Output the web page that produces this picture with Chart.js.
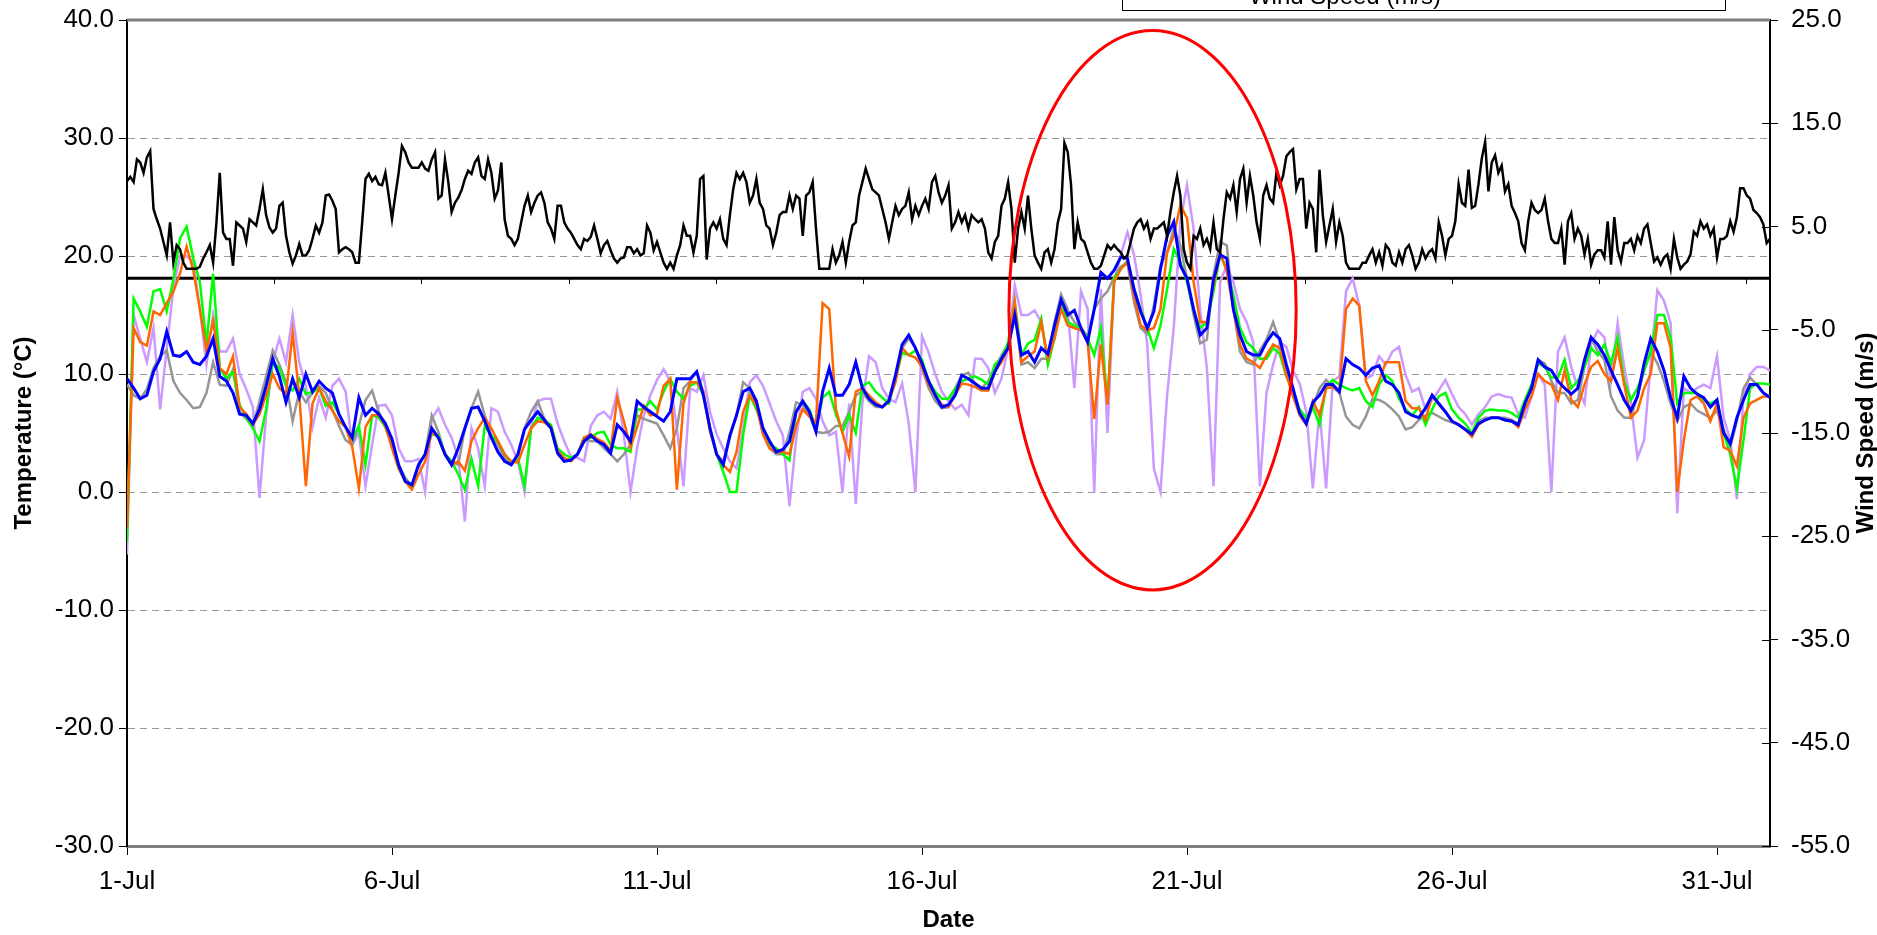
<!DOCTYPE html>
<html>
<head>
<meta charset="utf-8">
<script src="https://cdn.jsdelivr.net/npm/chart.js@4.4.1/dist/chart.umd.min.js"></script>
<style>
  html, body { margin: 0; padding: 0; background: #fff; }
  #wrap { width: 1877px; height: 935px; }
</style>
</head>
<body>
<div id="wrap"><canvas id="c" width="1877" height="935"></canvas></div>
<script>
// Sampling from 1 July 00:00 to 1 August 00:00: wind every 1.5 h, temperatures every 3 h
const WIND_STEP_DAYS = 0.0625;
const TEMP_STEP_DAYS = 0.125;
// the secondary time axis (zero wind line) is marked every 4000 minutes
const ZERO_AXIS_TICK_DAYS = 4000 / 1440;

const dateTicks = ['1-Jul', '6-Jul', '11-Jul', '16-Jul', '21-Jul', '26-Jul', '31-Jul'];
const tempTicks = [-30, -20, -10, 0, 10, 20, 30, 40];
const windTicks = [-55, -45, -35, -25, -15, -5, 5, 15, 25];

// one row per day
const windSpeed = [
  9.4,9.8,9.3,11.5,11.2,10.2,11.7,12.3,6.7,5.7,4.8,3.5,2.2,5.4,1.5,3.2,
  2.8,1.5,0.9,0.9,0.9,0.9,1.1,1.9,2.5,3.2,1.5,5.4,10.2,4.4,3.8,3.8,
  1.2,5.4,5.1,4.8,3.5,5.7,5.4,5.1,6.7,8.6,6.1,4.9,4.4,4.8,7.0,7.3,
  4.1,2.5,1.4,2.2,3.3,2.2,2.2,2.7,3.8,5.1,4.4,5.4,8.0,8.1,7.5,6.7,
  2.5,2.8,3.0,2.8,2.5,1.5,1.5,5.4,9.6,10.1,9.4,9.8,9.1,9.0,10.2,8.0,
  5.7,8.0,10.2,12.8,12.2,11.2,10.7,10.7,10.7,11.2,10.6,10.4,11.5,12.2,7.7,8.0,
  11.5,9.3,6.4,7.3,7.8,8.5,9.6,10.4,10.1,11.2,11.7,9.9,9.6,11.5,10.2,7.7,
  8.5,11.2,5.7,4.1,3.8,3.2,3.8,5.4,7.0,8.0,6.4,7.3,8.0,8.3,7.3,5.4,
  4.8,3.8,7.0,7.0,5.4,4.8,4.4,3.8,3.2,2.8,3.8,3.6,4.0,5.1,3.8,2.4,
  3.2,3.6,2.7,1.9,1.5,1.9,2.0,3.0,3.0,2.4,2.8,2.2,2.4,5.1,4.4,2.7,
  3.5,2.5,1.5,0.9,1.5,0.9,2.2,3.2,5.1,4.1,4.1,2.5,4.1,9.6,9.9,1.8,
  4.8,5.4,4.8,5.7,3.8,3.2,6.1,8.6,10.2,9.6,10.2,9.3,7.3,8.0,9.6,7.3,
  6.7,5.1,4.8,3.2,4.4,6.1,6.4,6.4,8.0,6.7,8.0,7.7,4.1,8.0,8.3,9.3,
  4.8,0.9,0.9,0.9,0.9,2.8,1.5,2.2,3.5,1.5,3.5,5.1,5.4,8.0,9.3,10.6,
  9.6,8.6,8.3,8.0,6.7,5.4,3.8,5.4,7.0,6.1,6.7,7.0,8.3,5.7,7.0,6.1,
  7.0,7.7,6.7,9.3,9.9,8.3,7.3,8.0,9.0,4.8,5.4,6.4,5.4,6.1,4.8,6.1,
  5.7,5.4,5.7,4.8,2.5,1.9,3.5,4.1,7.0,7.7,9.3,6.7,1.5,4.8,6.4,4.8,
  8.0,4.8,2.2,1.5,0.9,2.5,2.8,1.5,2.8,5.4,6.7,13.1,12.2,9.0,2.8,5.4,
  3.8,3.5,2.5,1.5,0.9,0.9,1.2,2.2,3.2,2.8,3.2,2.8,2.5,1.9,2.2,3.5,
  4.8,5.4,5.7,4.8,5.4,3.8,4.8,4.8,5.1,5.4,4.1,6.4,8.3,9.9,8.0,2.8,
  1.5,0.9,4.1,3.8,4.8,3.2,3.8,2.8,5.4,2.8,2.5,5.7,8.3,7.7,9.0,6.4,
  9.6,10.6,7.3,9.9,8.0,5.4,3.8,8.0,9.0,7.7,7.3,10.2,9.0,9.9,11.8,12.2,
  12.5,8.6,9.6,9.6,4.8,7.3,6.7,2.5,10.5,6.1,3.5,5.1,6.7,3.5,5.4,4.1,
  1.5,0.9,0.9,0.9,0.9,1.5,1.5,2.2,2.8,1.5,2.5,1.2,3.2,2.8,1.5,1.2,
  2.5,1.5,2.8,3.2,2.2,0.9,1.5,2.8,1.9,2.5,2.8,1.9,5.4,4.1,2.2,3.8,
  4.1,5.5,9.1,7.3,7.0,10.5,6.8,7.0,9.1,11.6,13.2,8.4,11.2,11.9,10.2,10.9,
  8.4,9.1,7.0,6.3,5.5,3.4,2.7,5.5,7.3,6.6,6.3,6.6,7.7,5.5,3.8,3.4,
  3.4,4.8,1.3,5.5,6.3,3.8,4.8,4.1,2.3,3.8,1.3,2.3,2.7,2.7,2.0,5.5,
  1.3,5.9,2.7,1.6,3.4,3.4,3.8,2.7,4.1,3.4,4.8,5.2,3.4,1.6,2.0,1.3,
  2.0,2.3,0.9,3.8,2.0,0.9,1.3,1.6,2.3,4.5,4.1,5.5,4.8,5.2,4.1,4.8,
  2.0,3.8,3.8,4.1,5.5,4.5,5.9,8.7,8.7,8.0,7.7,6.6,6.3,5.9,5.2,3.4,
  3.8
];

const tempBlue = [
  9.6,8.8,7.9,8.2,10.2,11.3,13.6,11.6,
  11.5,11.9,11.0,10.8,11.5,13.0,9.8,9.4,
  8.4,6.6,6.5,5.8,7.0,9.0,11.3,9.8,
  7.6,9.6,8.0,10.0,8.5,9.4,8.8,8.4,
  6.6,5.5,4.6,8.0,6.5,7.1,6.6,5.8,
  4.5,2.3,0.9,0.6,2.3,3.2,5.4,4.6,
  3.2,2.3,3.7,5.4,7.1,7.2,6.0,4.6,
  3.4,2.6,2.3,3.2,5.3,6.1,6.8,6.1,
  5.4,3.3,2.6,2.7,3.2,4.3,4.8,4.3,
  4.0,3.3,5.7,5.1,4.3,7.7,7.2,6.8,
  6.4,6.0,6.8,9.6,9.6,9.6,10.2,8.2,
  5.4,3.2,2.3,4.8,6.5,8.5,8.8,7.7,
  5.4,4.3,3.4,3.6,4.3,6.8,7.7,6.8,
  5.1,8.5,10.5,8.2,8.2,9.1,11.0,8.8,
  7.9,7.4,7.2,7.7,9.9,12.5,13.3,12.2,
  10.9,9.4,8.2,7.2,7.4,8.2,9.9,9.6,
  9.2,8.8,8.8,10.2,11.3,12.2,15.0,11.6,
  11.9,11.0,12.2,11.7,14.1,16.3,15.0,15.4,
  13.9,12.7,15.5,18.6,18.1,18.8,19.9,19.8,
  17.2,15.3,13.9,15.3,18.9,21.7,22.9,19.2,
  18.1,15.5,13.3,13.9,18.0,20.1,19.8,15.5,
  13.3,11.9,11.6,11.6,12.7,13.5,13.0,10.8,
  8.8,6.7,5.8,7.6,8.2,9.1,9.1,8.5,
  11.3,10.8,10.5,9.9,10.5,10.7,9.4,9.1,
  8.4,6.8,6.5,6.3,7.1,8.2,7.5,6.8,
  6.0,5.7,5.3,4.9,5.8,6.1,6.3,6.3,
  6.1,6.0,5.7,7.5,8.8,11.2,10.6,10.3,
  9.4,8.8,8.3,8.8,11.2,13.1,12.5,11.6,
  10.3,9.1,7.8,6.9,8.1,10.9,13.0,11.9,
  10.3,8.0,6.3,9.8,8.8,8.3,8.0,7.2,
  7.8,5.0,4.1,6.3,7.8,9.1,9.1,8.4,
  8.0
];

const tempGreen = [
  -4.2,16.4,15.3,14.0,17.0,17.2,15.3,18.0,
  21.5,22.5,19.8,17.8,12.5,18.5,10.5,9.6,
  10.2,7.4,6.3,5.4,4.3,7.0,11.0,10.5,
  9.0,8.6,9.6,8.3,8.5,8.8,7.3,7.6,
  6.6,5.5,4.5,5.6,2.3,6.5,6.3,5.5,
  4.0,2.0,0.9,0.5,2.3,3.2,4.9,4.8,
  3.2,2.6,1.5,0.2,2.8,0.5,5.6,4.8,
  4.3,3.2,2.5,2.9,0.5,5.4,6.3,6.0,
  5.7,3.7,3.2,2.9,3.2,4.6,4.6,5.0,
  5.1,4.0,3.7,3.7,3.4,7.0,7.0,7.7,
  7.0,8.5,9.6,8.5,7.9,9.0,9.3,8.2,
  5.4,3.2,1.7,0.0,0.0,4.8,8.2,7.0,
  5.4,4.0,3.7,3.2,2.7,6.8,7.7,7.0,
  5.4,8.0,8.5,6.6,5.1,6.5,5.0,9.0,
  9.3,8.5,8.0,7.5,9.6,11.8,11.6,12.0,
  11.2,9.4,8.5,7.9,7.9,8.8,9.4,9.6,
  9.8,9.5,9.1,10.8,11.3,12.7,16.1,11.6,
  12.6,12.9,14.7,10.8,13.0,16.1,14.4,14.1,
  13.9,13.0,11.6,13.9,7.5,18.1,18.9,19.6,
  17.2,15.5,13.9,12.2,14.1,17.2,20.6,19.5,
  17.8,15.3,13.9,14.4,17.0,20.1,18.9,16.7,
  13.9,12.7,12.2,11.3,11.3,12.2,11.7,9.8,
  8.6,7.0,6.3,7.2,5.7,8.9,9.5,9.1,
  8.8,8.6,8.8,7.7,7.2,9.1,9.9,9.4,
  7.9,7.0,6.5,7.2,5.7,7.0,8.1,8.4,
  7.0,6.3,5.8,5.0,6.3,6.9,7.0,6.9,
  6.9,6.7,6.3,7.8,9.1,10.9,10.6,9.7,
  9.7,11.2,8.8,9.4,10.6,12.2,11.6,12.5,
  10.9,13.1,9.4,7.8,8.8,10.3,11.9,15.0,
  15.0,13.1,7.5,8.4,8.4,8.4,7.8,7.5,
  7.8,5.0,3.2,0.3,4.4,8.8,9.2,9.2,
  9.1
];

const tempOrange = [
  -3.0,13.9,12.7,12.4,15.3,15.0,16.0,17.0,
  18.5,20.8,18.8,15.5,12.0,14.5,10.5,10.0,
  11.5,7.2,6.6,5.7,6.6,8.2,10.0,8.8,
  8.3,13.5,8.2,0.5,7.5,8.8,7.7,6.9,
  6.0,5.5,3.8,0.3,5.5,6.5,6.5,5.6,
  3.7,2.0,0.9,0.2,1.5,2.6,5.1,4.6,
  3.2,2.3,2.6,1.8,4.3,5.4,6.3,5.4,
  4.3,3.2,2.6,2.5,4.0,5.4,6.0,5.9,
  5.5,3.5,2.9,2.6,3.2,4.6,4.9,4.5,
  4.2,3.5,8.0,6.0,3.8,5.5,7.3,6.5,
  6.6,9.0,9.6,0.2,7.5,9.3,9.3,8.5,
  5.1,3.2,2.3,1.7,3.4,6.8,8.2,7.3,
  4.9,3.7,3.4,3.4,3.2,5.6,7.0,6.4,
  5.9,16.0,15.5,7.0,5.0,3.0,8.5,8.8,
  8.2,7.6,7.2,7.7,9.3,12.2,11.6,11.4,
  10.6,9.1,8.2,7.4,7.2,8.2,9.2,9.1,
  8.9,8.6,8.6,10.2,11.0,12.2,16.1,11.0,
  11.5,11.9,14.4,11.3,13.0,15.5,14.1,13.9,
  13.7,12.7,6.2,12.5,7.4,17.8,18.9,19.5,
  16.7,14.1,13.7,13.9,15.5,20.3,21.7,24.3,
  23.2,17.8,14.4,14.4,17.5,20.3,18.7,15.5,
  12.5,11.3,11.0,10.5,11.6,12.5,12.2,9.9,
  8.2,6.5,5.7,7.7,6.5,8.8,8.9,8.6,
  15.5,16.4,15.8,9.4,8.2,9.4,11.0,11.0,
  11.0,7.7,7.1,7.1,6.1,8.2,7.4,6.8,
  6.0,5.7,5.3,4.7,5.7,6.1,6.3,6.3,
  6.1,6.0,5.5,7.0,8.1,10.0,9.4,9.1,
  7.8,10.3,7.8,7.2,9.1,10.6,11.1,10.0,
  9.4,12.2,9.1,6.3,6.9,8.8,10.0,14.3,
  14.3,12.2,0.0,4.4,7.8,8.1,7.5,6.0,
  7.5,3.8,3.5,2.2,6.3,7.5,7.8,8.1,
  8.1
];

const tempGray = [
  9.1,8.2,7.9,8.7,10.5,11.5,12.0,9.4,
  8.4,7.8,7.1,7.2,8.4,11.0,9.1,9.0,
  10.4,6.8,6.2,5.6,7.7,9.8,12.0,10.8,
  9.3,6.0,8.5,7.6,8.4,9.0,8.4,7.0,
  5.6,4.4,4.0,5.6,7.8,8.6,6.8,5.5,
  4.0,2.3,1.2,0.5,2.3,3.2,6.5,5.1,
  3.2,2.6,2.3,5.4,7.1,8.5,6.5,4.8,
  4.0,2.9,2.3,2.9,5.4,6.8,7.7,6.2,
  5.4,3.2,2.6,2.9,3.2,4.6,4.3,4.3,
  3.7,3.2,2.6,3.2,4.0,6.5,6.2,6.0,
  5.8,4.8,3.7,5.4,8.8,9.4,10.2,8.5,
  5.4,3.2,2.6,4.6,6.5,9.3,8.8,7.5,
  4.9,3.7,3.2,3.2,5.1,7.6,7.4,6.5,
  5.1,5.0,5.1,5.6,5.6,6.8,8.2,8.5,
  7.7,7.2,7.2,7.9,9.9,12.2,13.0,12.3,
  10.5,8.8,7.7,7.1,7.2,8.8,9.9,10.1,
  9.2,8.8,9.4,10.5,11.6,12.5,15.5,10.8,
  11.0,10.5,11.3,11.3,14.4,16.7,15.4,14.4,
  13.9,13.2,15.5,16.4,17.0,18.2,19.1,19.4,
  16.1,13.9,13.4,15.8,19.2,20.3,22.3,20.9,
  18.1,15.0,12.6,12.9,18.4,21.2,20.9,15.5,
  11.9,11.0,10.8,12.0,12.9,14.4,12.7,10.2,
  8.1,6.7,5.8,7.2,8.8,9.5,8.9,8.4,
  6.4,5.7,5.4,6.4,7.9,7.8,7.5,7.0,
  6.4,5.3,5.5,6.1,6.5,6.7,6.4,6.1,
  5.9,5.7,5.3,4.7,6.0,6.3,6.3,6.3,
  6.3,6.1,5.8,7.5,8.8,11.2,10.9,9.4,
  8.4,8.4,7.5,7.8,10.6,13.1,11.9,11.2,
  8.1,6.9,6.3,6.3,8.1,10.3,11.9,10.9,
  9.4,7.5,6.0,7.2,7.5,6.9,6.6,6.3,
  6.9,5.3,3.8,6.0,8.8,9.7,9.1,8.4,
  8.1
];

const tempPurple = [
  -5.3,15.0,13.0,11.0,13.9,7.0,12.2,17.3,
  20.0,20.0,19.5,15.5,10.8,15.0,11.9,11.9,
  13.0,10.0,8.7,7.2,-0.5,6.5,11.0,13.0,
  11.0,15.0,11.0,9.0,5.5,8.0,6.3,9.0,
  9.6,8.5,4.0,5.0,0.5,4.0,7.3,7.4,
  6.5,3.7,2.6,2.6,2.8,0.0,6.2,7.1,
  5.7,4.6,2.9,-2.5,5.4,3.7,0.5,7.1,
  6.8,5.1,4.0,2.6,0.0,5.6,7.7,7.9,
  7.9,5.8,4.3,3.0,2.9,2.6,5.6,6.5,
  6.8,6.2,8.5,4.8,0.0,3.7,6.5,8.2,
  9.5,10.4,9.4,5.4,0.5,8.8,8.5,9.9,
  6.8,4.9,3.7,2.6,2.0,5.4,9.3,9.9,
  9.0,7.5,6.0,4.8,-1.2,4.5,8.5,8.8,
  7.9,6.0,4.8,5.1,0.0,7.5,-1.0,7.5,
  11.5,11.0,8.8,7.9,7.6,9.2,5.8,0.0,
  13.2,11.8,10.0,8.5,7.7,7.0,7.4,6.5,
  11.3,11.3,10.5,8.4,9.6,12.2,17.5,15.0,
  15.0,15.4,14.4,11.0,13.3,16.7,15.5,8.8,
  17.0,15.5,0.0,17.2,5.0,17.8,20.1,22.0,
  20.1,16.7,12.5,2.0,0.0,8.2,13.9,22.9,
  26.0,22.3,15.3,10.5,0.5,17.8,19.2,17.8,
  15.5,14.4,12.7,0.5,8.4,10.8,12.7,12.3,
  10.3,9.2,6.8,0.3,7.0,0.3,9.4,9.8,
  17.0,18.1,15.8,9.6,9.9,11.5,10.8,11.9,
  12.3,9.9,8.5,8.8,7.0,7.8,8.6,9.5,
  8.3,7.2,6.6,5.7,6.6,7.2,8.1,8.3,
  8.1,8.0,6.6,6.3,8.1,10.0,9.1,0.0,
  11.9,13.1,10.6,8.8,7.5,12.5,13.7,13.1,
  9.4,14.3,10.6,7.5,2.9,4.4,10.9,17.1,
  16.2,14.3,-1.8,8.8,8.4,8.8,9.1,8.8,
  11.5,6.3,4.4,-0.6,8.1,10.0,10.6,10.6,
  10.3
];

// Highlighted period, in data units (days from 1 July, °C)
const highlight = { centerDay: 19.35, centerTemp: 15.4, halfDays: 2.71, halfTemp: 23.7 };

const FONT = "'Liberation Sans', Arial, sans-serif";

function points(values, step) {
  return values.map((v, i) => ({ x: i * step, y: v }));
}

function series(label, values, step, color, width, axis) {
  return {
    label, data: points(values, step), borderColor: color, backgroundColor: color,
    borderWidth: width, pointRadius: 0, tension: 0, yAxisID: axis, fill: false
  };
}

// keep the plot area fixed: labels may overhang the frame without shrinking it
function fixedBox(size, horizontal) {
  return s => {
    if (horizontal) s.height = size; else s.width = size;
    s.paddingTop = 0; s.paddingBottom = 0; s.paddingLeft = 0; s.paddingRight = 0;
  };
}

const overlay = {
  id: 'overlay',
  beforeDatasetsDraw(chart) {
    const { ctx, chartArea: a, scales } = chart;
    ctx.save();
    // secondary time axis, crossing the wind scale at zero, with its tick marks
    const y0 = scales.y1.getPixelForValue(0);
    ctx.strokeStyle = '#000';
    ctx.lineWidth = 3;
    ctx.beginPath();
    ctx.moveTo(a.left, y0);
    ctx.lineTo(a.right, y0);
    ctx.stroke();
    ctx.lineWidth = 1;
    ctx.beginPath();
    for (let d = ZERO_AXIS_TICK_DAYS; d < scales.x.max; d += ZERO_AXIS_TICK_DAYS) {
      const px = Math.round(scales.x.getPixelForValue(d)) + 0.5;
      ctx.moveTo(px, y0);
      ctx.lineTo(px, y0 + 6);
    }
    ctx.stroke();
    // inner half of the wind-speed tick marks
    ctx.beginPath();
    windTicks.forEach(v => {
      const py = Math.round(scales.y1.getPixelForValue(v)) + 0.5;
      ctx.moveTo(a.right - 8, py);
      ctx.lineTo(a.right, py);
    });
    ctx.stroke();
    // top edge of the plot frame
    ctx.strokeStyle = '#808080';
    ctx.lineWidth = 3;
    ctx.beginPath();
    ctx.moveTo(a.left, a.top);
    ctx.lineTo(a.right, a.top);
    ctx.stroke();
    ctx.restore();
  },
  afterDatasetsDraw(chart) {
    const { ctx, scales: { x, y } } = chart;
    const cx = x.getPixelForValue(highlight.centerDay);
    const cy = y.getPixelForValue(highlight.centerTemp);
    const rx = x.getPixelForValue(highlight.centerDay + highlight.halfDays) - cx;
    const ry = cy - y.getPixelForValue(highlight.centerTemp + highlight.halfTemp);
    ctx.save();
    ctx.strokeStyle = '#ff0000';
    ctx.lineWidth = 3;
    ctx.beginPath();
    ctx.ellipse(cx, cy, rx, ry, 0, 0, Math.PI * 2);
    ctx.stroke();
    ctx.restore();
  },
  afterDraw(chart) {
    const { ctx, chartArea: a } = chart;
    ctx.save();
    // legend box, only its last row falls inside the canvas
    ctx.fillStyle = '#fff';
    ctx.fillRect(1122, -40, 603, 50);
    ctx.strokeStyle = '#000';
    ctx.lineWidth = 1;
    ctx.strokeRect(1122.5, -40, 603, 50.5);
    ctx.fillStyle = '#000';
    ctx.font = '24px ' + FONT;
    ctx.textAlign = 'center';
    ctx.textBaseline = 'alphabetic';
    ctx.fillText('Wind Speed (m/s)', 1345, 4);
    // secondary axis title, reading upwards
    ctx.translate(1866, (a.top + a.bottom) / 2);
    ctx.rotate(-Math.PI / 2);
    ctx.font = 'bold 24px ' + FONT;
    ctx.textBaseline = 'middle';
    ctx.fillText('Wind Speed (m/s)', 0, 0);
    ctx.restore();
  }
};

new Chart(document.getElementById('c'), {
  type: 'line',
  data: {
    datasets: [
      series('Wind Speed (m/s)', windSpeed, WIND_STEP_DAYS, '#000000', 2.5, 'y1'),
      series('Temperature 5', tempBlue, TEMP_STEP_DAYS, '#0000ff', 3, 'y'),
      series('Temperature 4', tempOrange, TEMP_STEP_DAYS, '#ff6600', 2.5, 'y'),
      series('Temperature 3', tempGreen, TEMP_STEP_DAYS, '#00ff00', 2.5, 'y'),
      series('Temperature 2', tempGray, TEMP_STEP_DAYS, '#969696', 2.5, 'y'),
      series('Temperature 1', tempPurple, TEMP_STEP_DAYS, '#cc99ff', 2.5, 'y')
    ]
  },
  options: {
    responsive: false,
    animation: false,
    events: [],
    layout: { padding: { left: 0, right: 0, top: 20, bottom: 0 } },
    plugins: { legend: { display: false }, tooltip: { enabled: false }, title: { display: false } },
    scales: {
      x: {
        type: 'linear', min: 0, max: 31,
        afterBuildTicks: s => { s.ticks = dateTicks.map((_, i) => ({ value: i * 5 })); },
        afterFit: fixedBox(89, true),
        ticks: {
          callback: v => dateTicks[Math.round(v / 5)],
          font: { family: FONT, size: 26 }, color: '#000',
          padding: 11, maxRotation: 0, autoSkip: false
        },
        grid: { drawOnChartArea: false, tickLength: 9, tickColor: '#000', lineWidth: 1 },
        border: { color: '#808080', width: 3 },
        title: {
          display: true, text: 'Date', color: '#000',
          font: { family: FONT, size: 24, weight: 'bold' }, padding: { top: 0, bottom: 0 }
        }
      },
      y: {
        type: 'linear', position: 'left', min: -30, max: 40,
        afterBuildTicks: s => { s.ticks = tempTicks.map(v => ({ value: v })); },
        afterFit: fixedBox(127, false),
        ticks: {
          callback: v => v.toFixed(1),
          font: { family: FONT, size: 26 }, color: '#000', padding: 5
        },
        grid: {
          color: c => (c.tick && (c.tick.value === 40 || c.tick.value === -30)) ? 'rgba(0,0,0,0)' : '#999999',
          tickColor: '#000', tickLength: 8, lineWidth: 1
        },
        border: { color: '#000', width: 2, dash: [7, 5] },
        title: {
          display: true, text: 'Temperature (°C)', color: '#000',
          font: { family: FONT, size: 24, weight: 'bold' }, padding: { top: 10, bottom: 0 }
        }
      },
      y1: {
        type: 'linear', position: 'right', min: -55, max: 25,
        afterBuildTicks: s => { s.ticks = windTicks.map(v => ({ value: v })); },
        afterFit: fixedBox(107, false),
        ticks: {
          callback: v => v.toFixed(1),
          font: { family: FONT, size: 26 }, color: '#000', padding: 13
        },
        grid: { drawOnChartArea: false, tickColor: '#000', tickLength: 8, lineWidth: 1 },
        border: { color: '#000', width: 2 }
      }
    }
  },
  plugins: [overlay]
});
</script>
</body>
</html>
